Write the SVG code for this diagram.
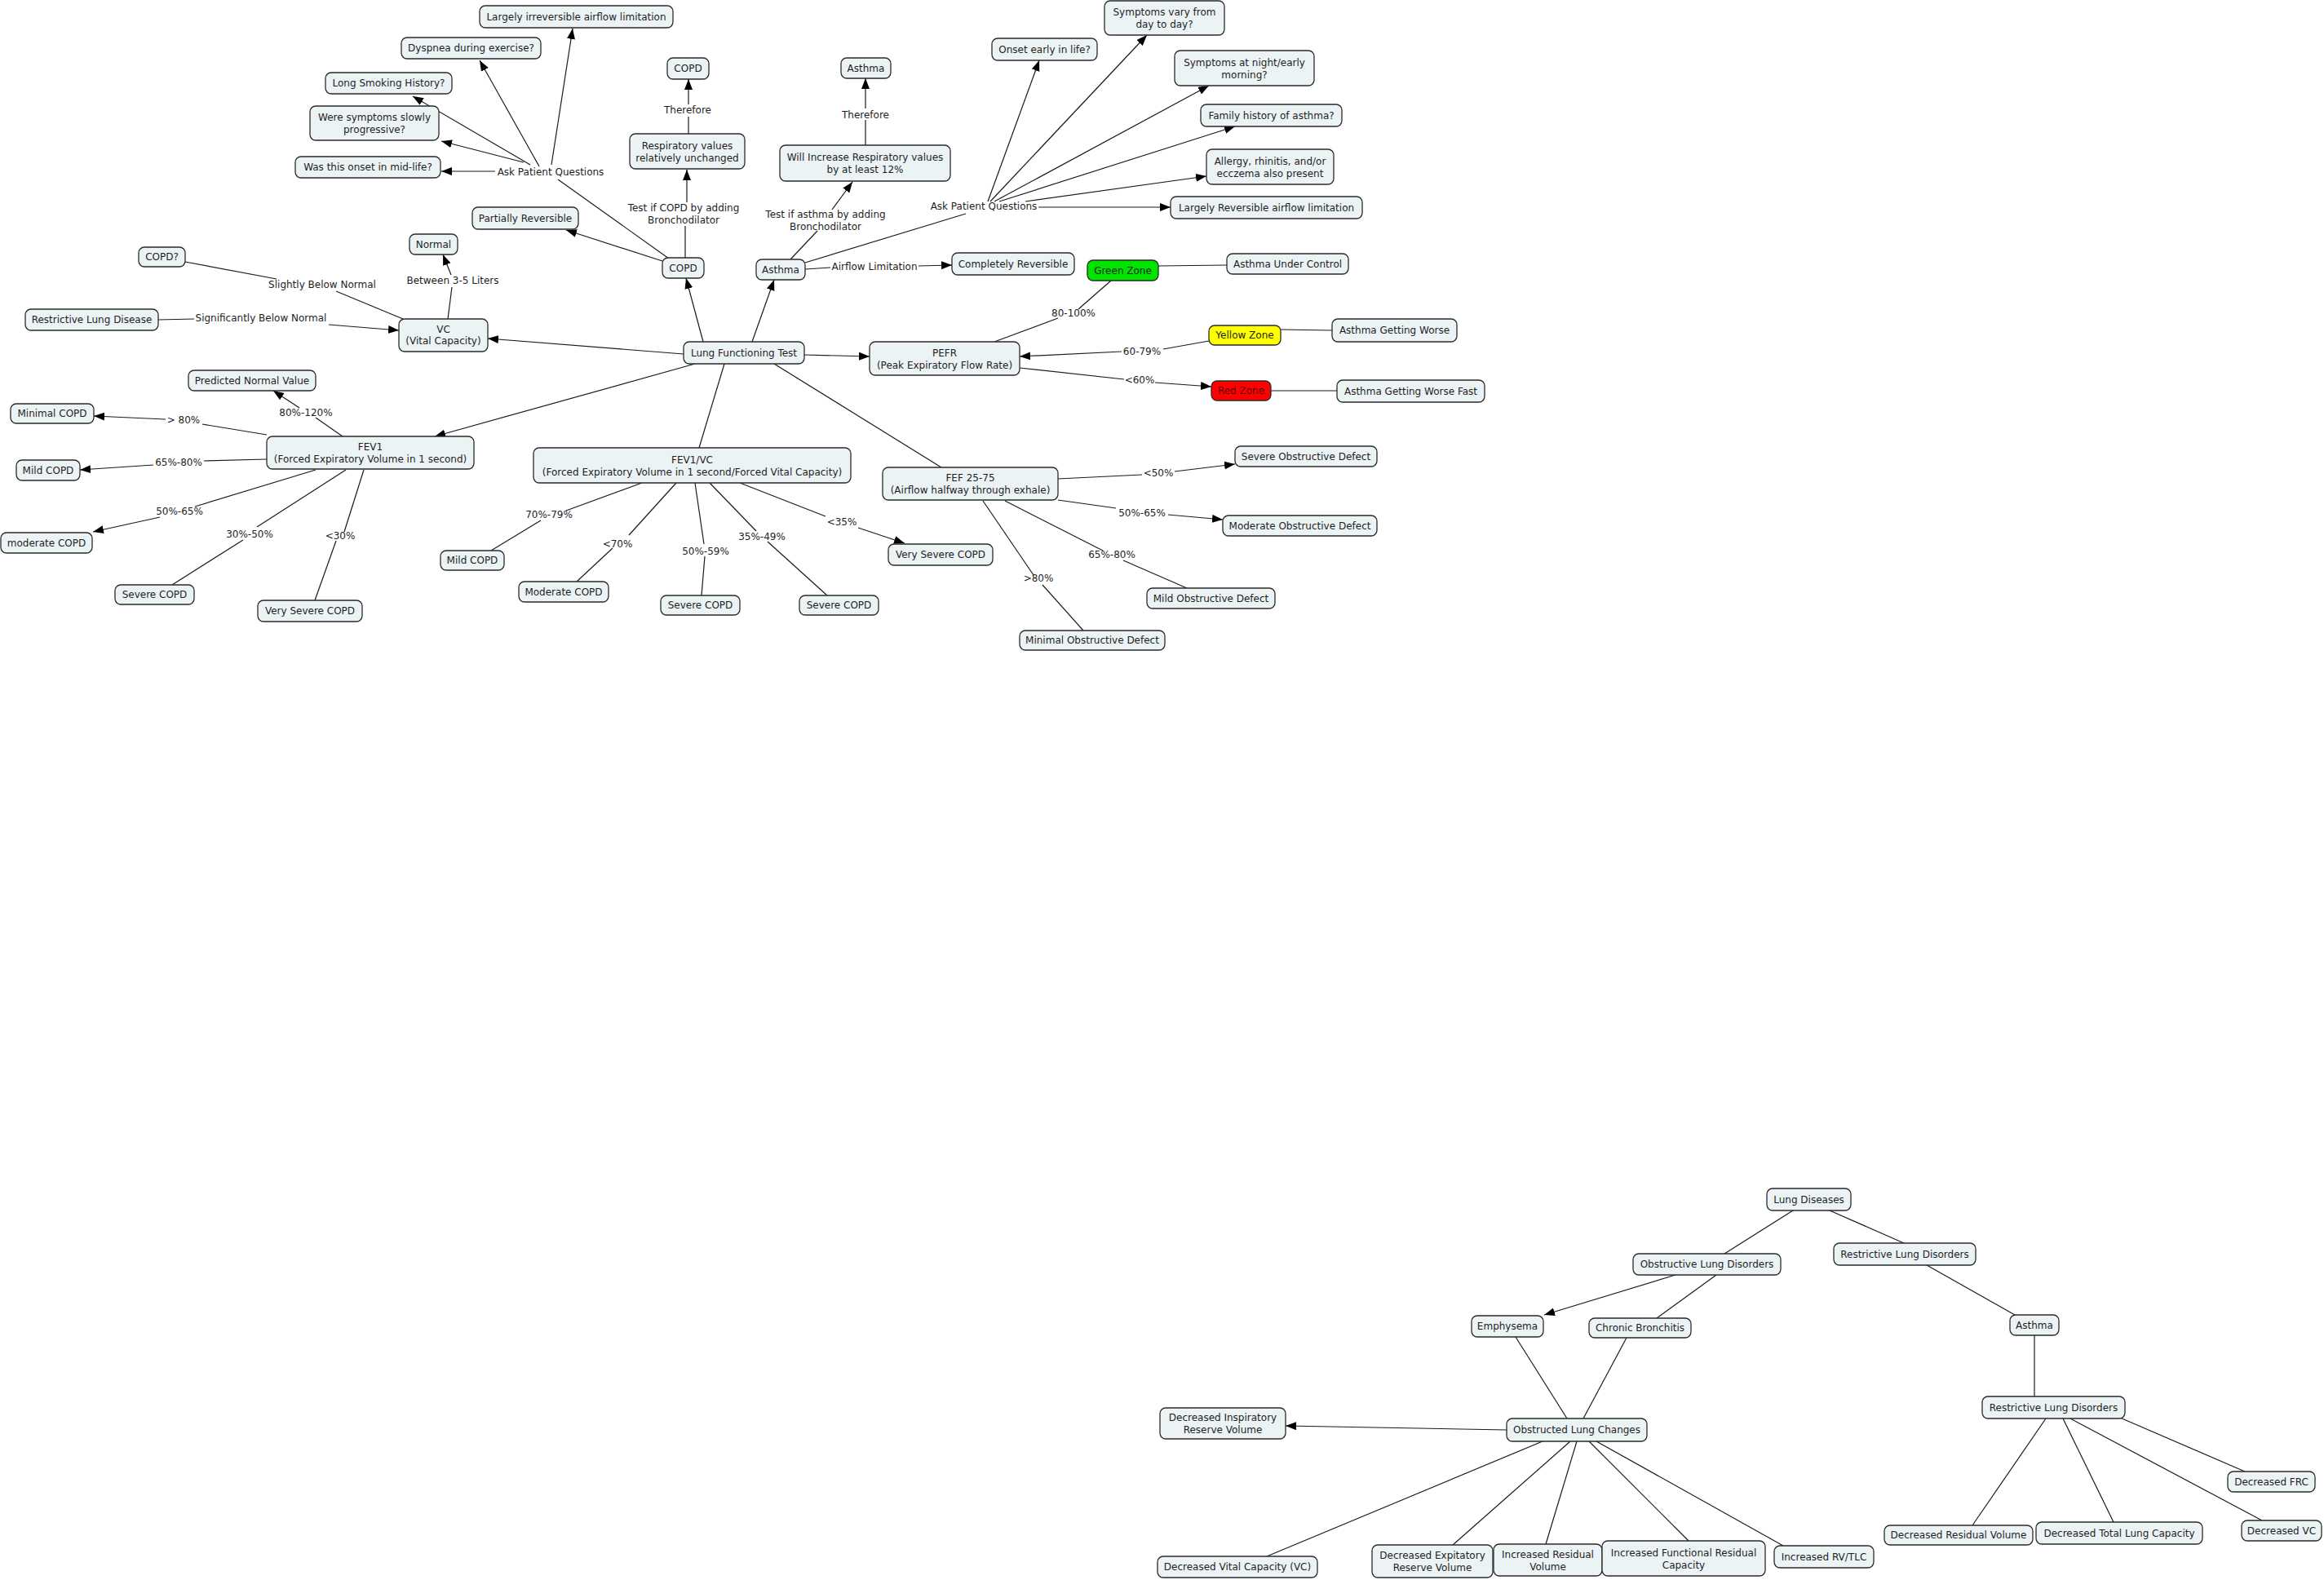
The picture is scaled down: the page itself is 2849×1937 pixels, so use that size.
<svg xmlns="http://www.w3.org/2000/svg" width="2849" height="1937" viewBox="0 0 2849 1937">
<style>
.node rect{fill:#ecf3f5;stroke:#2a2a2a;stroke-width:1.3}
text{font-family:"DejaVu Sans",Verdana,sans-serif;font-size:12px;fill:#1e1e1e;text-anchor:middle}
.conn path{fill:none;stroke:#1a1a1a;stroke-width:1.2}
.conn path.a{marker-end:url(#arr)}
</style>
<defs>
<marker id="arr" markerUnits="userSpaceOnUse" markerWidth="14" markerHeight="11" refX="13" refY="5" orient="auto">
<path d="M0,0 L13,5 L0,10 z" fill="#000"/>
</marker>
</defs>
<rect width="2849" height="1937" fill="#fff"/>

<g id="connectors" class="conn">
<path d="M820,317 L684,220"/>
<path class="a" d="M607,210 L541,210"/>
<path class="a" d="M642,199 L541,173"/>
<path class="a" d="M650,202 L506,118"/>
<path class="a" d="M661,204 L588,74"/>
<path class="a" d="M676,202 L702,35"/>
<path class="a" d="M812,320 L694,282"/>
<path d="M840,316 L840,277"/>
<path class="a" d="M842,248 L842,208"/>
<path d="M844,164 L844,143"/>
<path class="a" d="M844,128 L844,97"/>
<path d="M969,318 L1002,283"/>
<path class="a" d="M1020,257 L1045,223"/>
<path d="M1061,178 L1061,147"/>
<path class="a" d="M1061,133 L1061,96"/>
<path d="M987,330 L1018,328"/>
<path class="a" d="M1126,326 L1167,325"/>
<path d="M987,322 L1184,262"/>
<path class="a" d="M1211,247 L1274,74"/>
<path class="a" d="M1214,247 L1406,43"/>
<path class="a" d="M1219,247 L1482,105"/>
<path class="a" d="M1225,247 L1514,155"/>
<path class="a" d="M1257,247 L1479,216"/>
<path class="a" d="M1273,254 L1435,254"/>
<path class="a" d="M838,434 L598,415"/>
<path class="a" d="M862,419 L841,341"/>
<path class="a" d="M922,419 L949,343"/>
<path class="a" d="M986,435 L1066,437"/>
<path class="a" d="M852,446 L533,535"/>
<path d="M888,446 L857,549"/>
<path d="M949,446 L1154,573"/>
<path d="M1219,419 L1297,390"/>
<path d="M1322,379 L1362,344"/>
<path d="M1420,326 L1504,325"/>
<path d="M1482,418 L1426,428"/>
<path class="a" d="M1375,431 L1250,437"/>
<path d="M1570,404 L1633,405"/>
<path d="M1250,451 L1378,465"/>
<path class="a" d="M1416,469 L1485,474"/>
<path d="M1558,479 L1639,479"/>
<path d="M1297,587 L1400,582"/>
<path class="a" d="M1440,578 L1514,569"/>
<path d="M1297,613 L1368,623"/>
<path class="a" d="M1432,631 L1499,637"/>
<path d="M1232,614 L1352,675"/>
<path d="M1377,687 L1455,721"/>
<path d="M1205,614 L1267,705"/>
<path d="M1278,717 L1328,773"/>
<path d="M787,592 L694,626"/>
<path d="M663,638 L602,675"/>
<path d="M829,592 L771,656"/>
<path d="M751,672 L707,713"/>
<path d="M852,592 L863,667"/>
<path d="M864,682 L860,730"/>
<path d="M870,592 L927,651"/>
<path d="M941,664 L1014,730"/>
<path d="M907,592 L1012,633"/>
<path class="a" d="M1052,647 L1109,666"/>
<path d="M420,535 L387,512"/>
<path class="a" d="M367,500 L335,479"/>
<path d="M327,533 L248,520"/>
<path class="a" d="M203,514 L115,510"/>
<path d="M327,563 L250,565"/>
<path class="a" d="M188,570 L98,576"/>
<path d="M387,576 L239,621"/>
<path class="a" d="M196,634 L114,652"/>
<path d="M424,576 L315,646"/>
<path d="M298,662 L211,717"/>
<path d="M446,576 L422,652"/>
<path d="M412,663 L386,736"/>
<path d="M227,321 L339,342"/>
<path d="M412,357 L494,391"/>
<path d="M194,392 L238,391"/>
<path class="a" d="M403,398 L489,405"/>
<path d="M549,391 L554,352"/>
<path class="a" d="M553,337 L543,312"/>
<path d="M2198,1484 L2114,1537"/>
<path d="M2243,1484 L2334,1524"/>
<path d="M2362,1551 L2470,1612"/>
<path d="M2494,1637 L2494,1712"/>
<path class="a" d="M2054,1563 L1893,1612"/>
<path d="M2104,1563 L2031,1616"/>
<path d="M1858,1639 L1921,1739"/>
<path d="M1994,1640 L1941,1739"/>
<path class="a" d="M1847,1753 L1576,1748"/>
<path d="M1891,1767 L1553,1908"/>
<path d="M1925,1767 L1781,1894"/>
<path d="M1933,1767 L1895,1893"/>
<path d="M1948,1767 L2070,1889"/>
<path d="M1957,1767 L2186,1895"/>
<path d="M2508,1739 L2418,1870"/>
<path d="M2529,1739 L2591,1866"/>
<path d="M2538,1739 L2773,1864"/>
<path d="M2599,1738 L2752,1804"/>
</g>

<g id="linking-phrases">
<text x="675" y="215">Ask Patient Questions</text>
<text x="395" y="353">Slightly Below Normal</text>
<text x="555" y="348">Between 3-5 Liters</text>
<text x="320" y="394">Significantly Below Normal</text>
<text x="843" y="139">Therefore</text>
<text x="838" y="259">Test if COPD by adding</text>
<text x="838" y="274">Bronchodilator</text>
<text x="1061" y="145">Therefore</text>
<text x="1012" y="267">Test if asthma by adding</text>
<text x="1012" y="282">Bronchodilator</text>
<text x="1072" y="331">Airflow Limitation</text>
<text x="1206" y="257">Ask Patient Questions</text>
<text x="1316" y="388">80-100%</text>
<text x="1400" y="435">60-79%</text>
<text x="1397" y="470">&lt;60%</text>
<text x="1420" y="584">&lt;50%</text>
<text x="1400" y="633">50%-65%</text>
<text x="1363" y="684">65%-80%</text>
<text x="1273" y="713">&gt;80%</text>
<text x="673" y="635">70%-79%</text>
<text x="757" y="671">&lt;70%</text>
<text x="865" y="680">50%-59%</text>
<text x="934" y="662">35%-49%</text>
<text x="1032" y="644">&lt;35%</text>
<text x="375" y="510">80%-120%</text>
<text x="225" y="519">&gt; 80%</text>
<text x="219" y="571">65%-80%</text>
<text x="220" y="631">50%-65%</text>
<text x="306" y="659">30%-50%</text>
<text x="417" y="661">&lt;30%</text>
</g>

<g id="n1" class="node"><rect x="588" y="7" width="237" height="27" rx="7"/><text x="706.5" y="24.5">Largely irreversible airflow limitation</text></g>
<g id="n2" class="node"><rect x="492" y="46" width="171" height="26" rx="7"/><text x="577.5" y="63">Dyspnea during exercise?</text></g>
<g id="n3" class="node"><rect x="399" y="89" width="155" height="26" rx="7"/><text x="476.5" y="106">Long Smoking History?</text></g>
<g id="n4" class="node"><rect x="380" y="130" width="158" height="42" rx="7"/><text x="459" y="148">Were symptoms slowly</text><text x="459" y="163">progressive?</text></g>
<g id="n5" class="node"><rect x="362" y="192" width="178" height="26" rx="7"/><text x="451" y="209">Was this onset in mid-life?</text></g>
<g id="n6" class="node"><rect x="579" y="254" width="130" height="27" rx="7"/><text x="644" y="271.5">Partially Reversible</text></g>
<g id="n7" class="node"><rect x="502" y="287" width="59" height="25" rx="7"/><text x="531.5" y="303.5">Normal</text></g>
<g id="n8" class="node"><rect x="170" y="303" width="57" height="24" rx="7"/><text x="198.5" y="319">COPD?</text></g>
<g id="n9" class="node"><rect x="31" y="379" width="163" height="26" rx="7"/><text x="112.5" y="396">Restrictive Lung Disease</text></g>
<g id="n10" class="node"><rect x="489" y="391" width="109" height="40" rx="7"/><text x="543.5" y="408">VC</text><text x="543.5" y="422">(Vital Capacity)</text></g>
<g id="n11" class="node"><rect x="818" y="71" width="51" height="26" rx="7"/><text x="843.5" y="88">COPD</text></g>
<g id="n12" class="node"><rect x="772" y="164" width="141" height="43" rx="7"/><text x="842.5" y="182.5">Respiratory values</text><text x="842.5" y="197.5">relatively unchanged</text></g>
<g id="n13" class="node"><rect x="812" y="316" width="51" height="25" rx="7"/><text x="837.5" y="332.5">COPD</text></g>
<g id="n14" class="node"><rect x="1031" y="71" width="61" height="25" rx="7"/><text x="1061.5" y="87.5">Asthma</text></g>
<g id="n15" class="node"><rect x="956" y="178" width="209" height="44" rx="7"/><text x="1060.5" y="197">Will Increase Respiratory values</text><text x="1060.5" y="212">by at least 12%</text></g>
<g id="n16" class="node"><rect x="927" y="318" width="60" height="25" rx="7"/><text x="957" y="334.5">Asthma</text></g>
<g id="n17" class="node"><rect x="1167" y="310" width="150" height="27" rx="7"/><text x="1242" y="327.5">Completely Reversible</text></g>
<g id="n18" class="node"><rect x="1216" y="47" width="129" height="27" rx="7"/><text x="1280.5" y="64.5">Onset early in life?</text></g>
<g id="n19" class="node"><rect x="1354" y="1" width="147" height="42" rx="7"/><text x="1427.5" y="19">Symptoms vary from</text><text x="1427.5" y="34">day to day?</text></g>
<g id="n20" class="node"><rect x="1440" y="62" width="171" height="43" rx="7"/><text x="1525.5" y="80.5">Symptoms at night/early</text><text x="1525.5" y="95.5">morning?</text></g>
<g id="n21" class="node"><rect x="1472" y="128" width="173" height="27" rx="7"/><text x="1558.5" y="145.5">Family history of asthma?</text></g>
<g id="n22" class="node"><rect x="1479" y="183" width="156" height="43" rx="7"/><text x="1557" y="201.5">Allergy, rhinitis, and/or</text><text x="1557" y="216.5">ecczema also present</text></g>
<g id="n23" class="node"><rect x="1435" y="241" width="235" height="27" rx="7"/><text x="1552.5" y="258.5">Largely Reversible airflow limitation</text></g>
<g id="n24" class="node"><rect x="1333" y="319" width="87" height="25" rx="7" style="fill:#00e400"/><text x="1376.5" y="335.5">Green Zone</text></g>
<g id="n25" class="node"><rect x="1504" y="311" width="149" height="25" rx="7"/><text x="1578.5" y="327.5">Asthma Under Control</text></g>
<g id="n26" class="node"><rect x="1482" y="399" width="88" height="24" rx="7" style="fill:#ffff00"/><text x="1526" y="415">Yellow Zone</text></g>
<g id="n27" class="node"><rect x="1633" y="391" width="153" height="28" rx="7"/><text x="1709.5" y="409">Asthma Getting Worse</text></g>
<g id="n28" class="node"><rect x="1485" y="467" width="73" height="24" rx="7" style="fill:#ff0000"/><text x="1521.5" y="483" style="fill:#5a0000">Red Zone</text></g>
<g id="n29" class="node"><rect x="1639" y="466" width="181" height="27" rx="7"/><text x="1729.5" y="483.5">Asthma Getting Worse Fast</text></g>
<g id="n30" class="node"><rect x="838" y="419" width="148" height="27" rx="7"/><text x="912" y="436.5">Lung Functioning Test</text></g>
<g id="n31" class="node"><rect x="1066" y="419" width="184" height="41" rx="7"/><text x="1158" y="436.5">PEFR</text><text x="1158" y="451.5">(Peak Expiratory Flow Rate)</text></g>
<g id="n32" class="node"><rect x="654" y="549" width="389" height="43" rx="7"/><text x="848.5" y="567.5">FEV1/VC</text><text x="848.5" y="582.5">(Forced Expiratory Volume in 1 second/Forced Vital Capacity)</text></g>
<g id="n33" class="node"><rect x="1082" y="573" width="215" height="40" rx="7"/><text x="1189.5" y="590">FEF 25-75</text><text x="1189.5" y="605">(Airflow halfway through exhale)</text></g>
<g id="n34" class="node"><rect x="1514" y="547" width="174" height="25" rx="7"/><text x="1601" y="563.5">Severe Obstructive Defect</text></g>
<g id="n35" class="node"><rect x="1499" y="632" width="189" height="25" rx="7"/><text x="1593.5" y="648.5">Moderate Obstructive Defect</text></g>
<g id="n36" class="node"><rect x="1406" y="721" width="157" height="25" rx="7"/><text x="1484.5" y="737.5">Mild Obstructive Defect</text></g>
<g id="n37" class="node"><rect x="1250" y="773" width="178" height="24" rx="7"/><text x="1339" y="789">Minimal Obstructive Defect</text></g>
<g id="n38" class="node"><rect x="231" y="454" width="156" height="25" rx="7"/><text x="309" y="470.5">Predicted Normal Value</text></g>
<g id="n39" class="node"><rect x="13" y="495" width="102" height="24" rx="7"/><text x="64" y="511">Minimal COPD</text></g>
<g id="n40" class="node"><rect x="327" y="535" width="254" height="40" rx="7"/><text x="454" y="552">FEV1</text><text x="454" y="567">(Forced Expiratory Volume in 1 second)</text></g>
<g id="n41" class="node"><rect x="20" y="564" width="78" height="25" rx="7"/><text x="59" y="580.5">Mild COPD</text></g>
<g id="n42" class="node"><rect x="1" y="653" width="112" height="25" rx="7"/><text x="57" y="669.5">moderate COPD</text></g>
<g id="n43" class="node"><rect x="141" y="717" width="97" height="24" rx="7"/><text x="189.5" y="733">Severe COPD</text></g>
<g id="n44" class="node"><rect x="316" y="736" width="128" height="26" rx="7"/><text x="380" y="753">Very Severe COPD</text></g>
<g id="n45" class="node"><rect x="540" y="675" width="78" height="24" rx="7"/><text x="579" y="691">Mild COPD</text></g>
<g id="n46" class="node"><rect x="636" y="713" width="110" height="25" rx="7"/><text x="691" y="729.5">Moderate COPD</text></g>
<g id="n47" class="node"><rect x="810" y="730" width="97" height="24" rx="7"/><text x="858.5" y="746">Severe COPD</text></g>
<g id="n48" class="node"><rect x="980" y="730" width="97" height="24" rx="7"/><text x="1028.5" y="746">Severe COPD</text></g>
<g id="n49" class="node"><rect x="1089" y="667" width="128" height="26" rx="7"/><text x="1153" y="684">Very Severe COPD</text></g>

<g id="n50" class="node"><rect x="2166" y="1457" width="103" height="27" rx="7"/><text x="2217.5" y="1474.5">Lung Diseases</text></g>
<g id="n51" class="node"><rect x="2002" y="1537" width="181" height="26" rx="7"/><text x="2092.5" y="1554">Obstructive Lung Disorders</text></g>
<g id="n52" class="node"><rect x="2248" y="1524" width="174" height="27" rx="7"/><text x="2335" y="1541.5">Restrictive Lung Disorders</text></g>
<g id="n53" class="node"><rect x="1804" y="1613" width="88" height="26" rx="7"/><text x="1848" y="1630">Emphysema</text></g>
<g id="n54" class="node"><rect x="1948" y="1616" width="125" height="24" rx="7"/><text x="2010.5" y="1632">Chronic Bronchitis</text></g>
<g id="n55" class="node"><rect x="2464" y="1612" width="60" height="25" rx="7"/><text x="2494" y="1628.5">Asthma</text></g>
<g id="n56" class="node"><rect x="1422" y="1726" width="154" height="38" rx="7"/><text x="1499" y="1742">Decreased Inspiratory</text><text x="1499" y="1757">Reserve Volume</text></g>
<g id="n57" class="node"><rect x="1847" y="1739" width="172" height="28" rx="7"/><text x="1933" y="1757">Obstructed Lung Changes</text></g>
<g id="n58" class="node"><rect x="1419" y="1908" width="196" height="26" rx="7"/><text x="1517" y="1925">Decreased Vital Capacity (VC)</text></g>
<g id="n59" class="node"><rect x="1682" y="1894" width="148" height="40" rx="7"/><text x="1756" y="1911">Decreased Expitatory</text><text x="1756" y="1926">Reserve Volume</text></g>
<g id="n60" class="node"><rect x="1831" y="1893" width="133" height="39" rx="7"/><text x="1897.5" y="1909.5">Increased Residual</text><text x="1897.5" y="1924.5">Volume</text></g>
<g id="n61" class="node"><rect x="1964" y="1889" width="200" height="43" rx="7"/><text x="2064" y="1907.5">Increased Functional Residual</text><text x="2064" y="1922.5">Capacity</text></g>
<g id="n62" class="node"><rect x="2175" y="1895" width="122" height="27" rx="7"/><text x="2236" y="1912.5">Increased RV/TLC</text></g>
<g id="n63" class="node"><rect x="2430" y="1712" width="175" height="27" rx="7"/><text x="2517.5" y="1729.5">Restrictive Lung Disorders</text></g>
<g id="n64" class="node"><rect x="2731" y="1804" width="107" height="25" rx="7"/><text x="2784.5" y="1820.5">Decreased FRC</text></g>
<g id="n65" class="node"><rect x="2310" y="1870" width="182" height="24" rx="7"/><text x="2401" y="1886">Decreased Residual Volume</text></g>
<g id="n66" class="node"><rect x="2496" y="1866" width="204" height="27" rx="7"/><text x="2598" y="1883.5">Decreased Total Lung Capacity</text></g>
<g id="n67" class="node"><rect x="2748" y="1864" width="98" height="25" rx="7"/><text x="2797" y="1880.5">Decreased VC</text></g>
</svg>
